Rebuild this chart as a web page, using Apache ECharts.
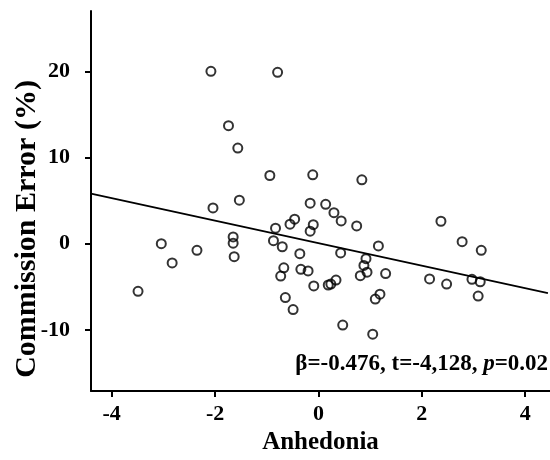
<!DOCTYPE html>
<html>
<head>
<meta charset="utf-8">
<script src="https://cdn.jsdelivr.net/npm/echarts@6/dist/echarts.min.js"></script>
<style>html,body{margin:0;padding:0;background:#fff;}#chart{width:550px;height:460px;}</style>
</head>
<body>
<div id="chart"></div>
<script>
// Data
const anhedonia = [-2.08,-0.79,-1.74,-1.56,-0.94,-0.11,0.84,-1.53,-2.04,-0.16,0.14,0.30,0.44,0.74,-0.46,-0.55,-0.10,-0.16,-0.83,-0.87,-0.70,-0.36,-1.65,-1.65,-1.63,-3.04,-2.35,-2.83,-3.49,-0.67,-0.34,-0.20,-0.73,-0.09,-0.64,-0.49,0.19,0.24,0.34,0.43,1.16,0.92,0.88,0.94,0.81,1.30,1.19,1.10,0.47,1.05,2.37,2.78,3.15,2.15,2.48,2.97,3.13,3.09];
const commissionError = [20.0,19.88,13.69,11.09,7.91,7.99,7.41,5.05,4.15,4.70,4.56,3.60,2.64,2.06,2.84,2.26,2.20,1.45,1.79,0.35,-0.36,-1.16,0.78,0.05,-1.51,0.00,-0.77,-2.24,-5.53,-2.80,-2.98,-3.17,-3.76,-4.90,-6.26,-7.65,-4.80,-4.69,-4.22,-1.08,-0.27,-1.74,-2.53,-3.31,-3.72,-3.47,-5.87,-6.43,-9.45,-10.50,2.60,0.23,-0.77,-4.10,-4.69,-4.14,-4.42,-6.08];
const fitSlope = [-1.304];
const fitIntercept = [0.06];
const fitRange = [-4.4, 4.44];
const xTicks = [-4, -2, 0, 2, 4];
const yTicks = [-10, 0, 10, 20];
const xTitle = 'Anhedonia';
const yTitle = 'Commission Error (%)';
const statParts = ['β=-0.476, t=-4,128, ', 'p', '=0.02'];

const FONT = "'Liberation Serif','Times New Roman',serif";
const points = anhedonia.map((x, i) => [x, commissionError[i]]);
const fitLine = fitRange.map(x => [x, fitSlope[0] * x + fitIntercept[0]]);

const chart = echarts.init(document.getElementById('chart'), null, {renderer: 'canvas'});
chart.setOption({
  animation: false,
  backgroundColor: '#fff',
  grid: {left: 91, top: 11, right: 0, bottom: 69, containLabel: false},
  xAxis: {
    type: 'value', min: -4.4, max: 4.48,
    name: xTitle, nameLocation: 'middle', nameGap: 34,
    nameTextStyle: {fontFamily: FONT, fontWeight: 'bold', fontSize: 25, color: '#000'},
    axisLine: {show: true, onZero: false, lineStyle: {color: '#000', width: 2}},
    axisTick: {show: true, length: 6, lineStyle: {color: '#000', width: 2}, customValues: xTicks},
    axisLabel: {customValues: xTicks, margin: 12, fontFamily: FONT, fontWeight: 'bold', fontSize: 22, color: '#000'},
    splitLine: {show: false}
  },
  yAxis: {
    type: 'value', min: -17.1, max: 27,
    axisLine: {show: true, onZero: false, lineStyle: {color: '#000', width: 2}},
    axisTick: {show: true, length: 6, lineStyle: {color: '#000', width: 2}, customValues: yTicks},
    axisLabel: {customValues: yTicks, margin: 21, fontFamily: FONT, fontWeight: 'bold', fontSize: 22, color: '#000'},
    splitLine: {show: false}
  },
  graphic: [
    {
      type: 'text', x: 27, y: 229, rotation: Math.PI / 2,
      style: {text: yTitle, font: "bold 30px 'Liberation Serif','Times New Roman',serif", fill: '#000', align: 'center', verticalAlign: 'middle'}
    },
    {
      type: 'text', x: 548, y: 364,
      style: {
        text: '{b|' + statParts[0] + '}{i|' + statParts[1] + '}{b|' + statParts[2] + '}',
        align: 'right', verticalAlign: 'middle',
        rich: {
          b: {fontFamily: FONT, fontWeight: 'bold', fontSize: 23, fill: '#000', color: '#000'},
          i: {fontFamily: FONT, fontWeight: 'bold', fontStyle: 'italic', fontSize: 23, fill: '#000', color: '#000'}
        }
      }
    }
  ],
  series: [
    {
      type: 'line', data: fitLine, symbol: 'none', silent: true,
      lineStyle: {color: '#000', width: 1.8}, z: 1
    },
    {
      type: 'scatter', data: points, symbol: 'circle', symbolSize: 9,
      itemStyle: {color: 'rgba(0,0,0,0)', borderColor: '#000', borderWidth: 2},
      emphasis: {disabled: true}, z: 2
    }
  ]
});
</script>
</body>
</html>
